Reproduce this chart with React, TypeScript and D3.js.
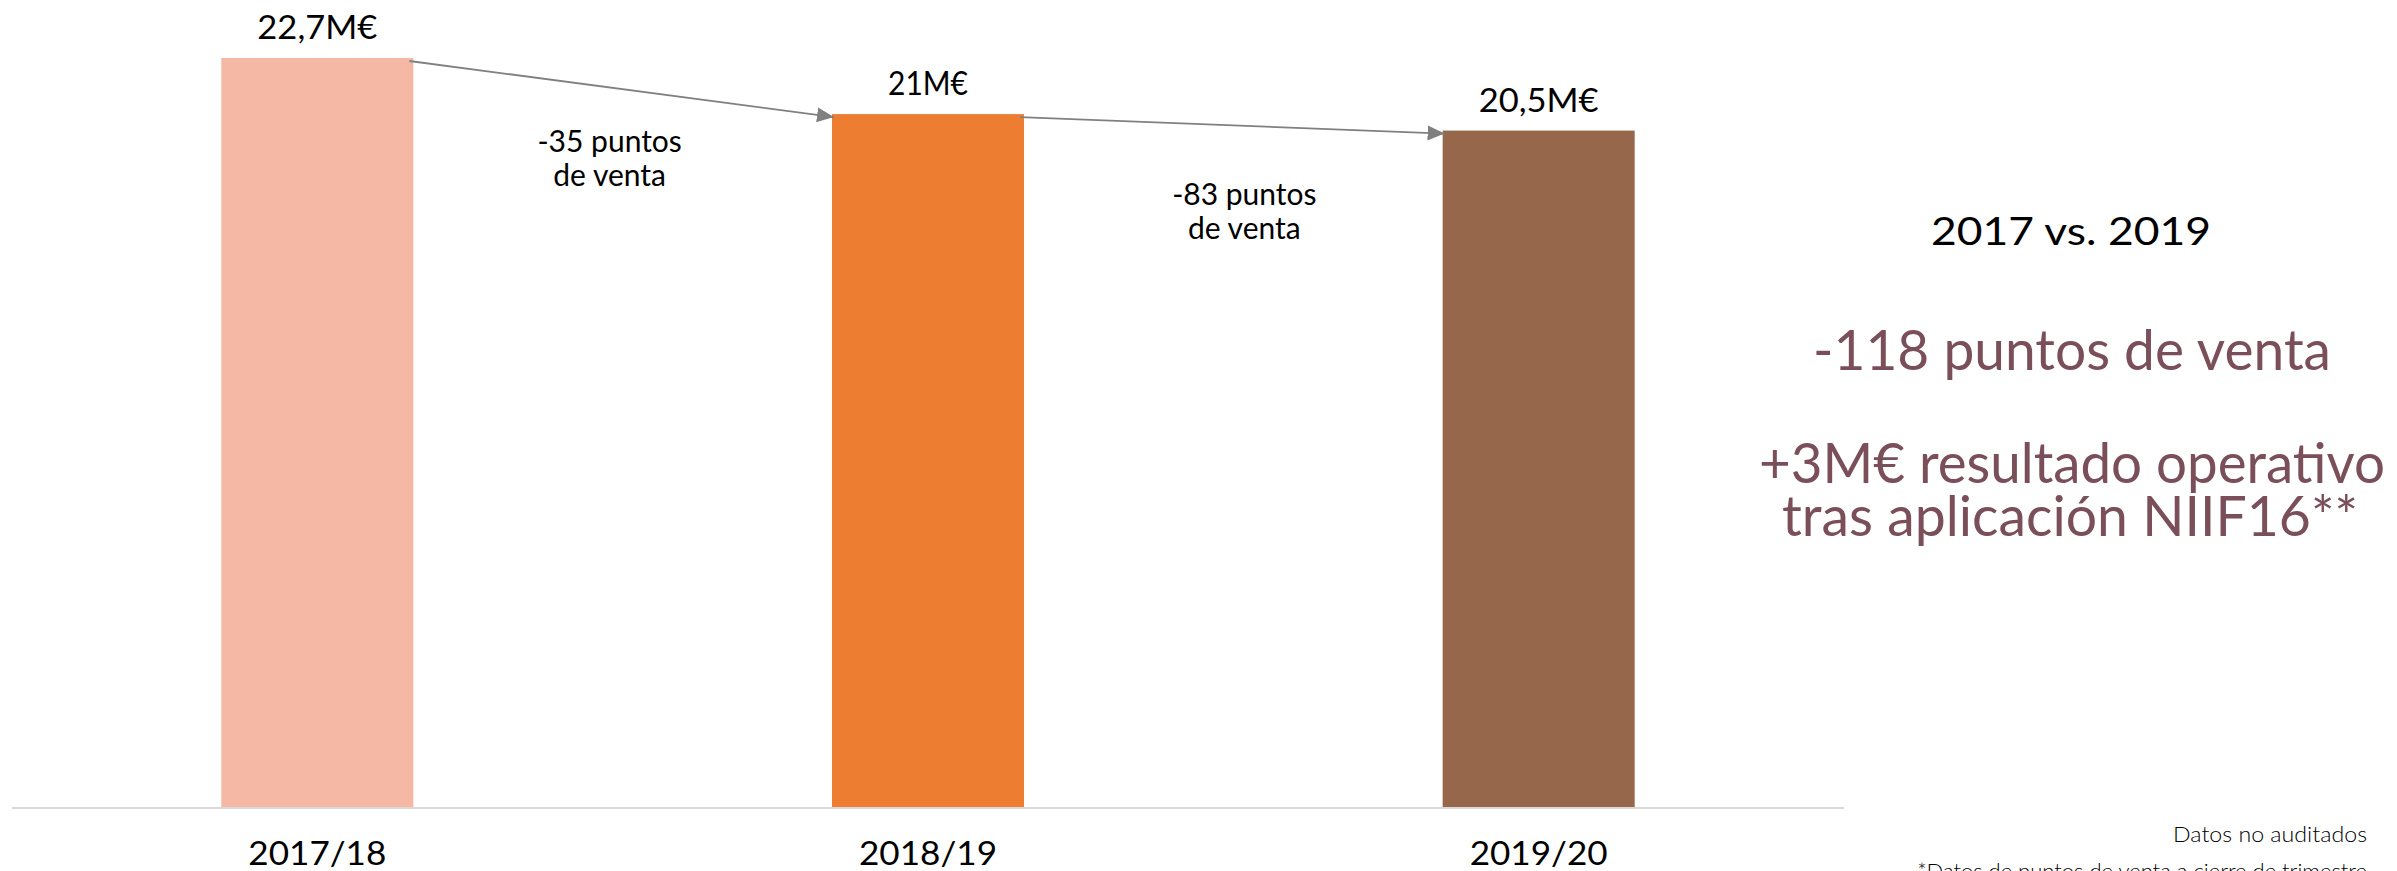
import React from "react";
import * as d3 from "d3";

const categories = ["2017/18", "2018/19", "2019/20"];
const values = [22.7, 21, 20.5];
const valueLabels = ["22,7M€", "21M€", "20,5M€"];
const changeLabels = [
  ["-35 puntos", "de venta"],
  ["-83 puntos", "de venta"],
];
const barColors = ["#F4B8A4", "#ED7D31", "#97674C"];
const summaryTitle = "2017 vs. 2019";
const summaryLines = ["-118 puntos de venta", "+3M€ resultado operativo", "tras aplicación NIIF16**"];
const footnotes = ["Datos no auditados", "*Datos de puntos de venta a cierre de trimestre"];

const W = 2397;
const H = 871;
const FONT = "Lato, 'Noto Sans', sans-serif";

export default function App() {
  const x = d3
    .scaleBand<string>()
    .domain(categories)
    .range([12, 1844])
    .paddingInner(0.6855)
    .paddingOuter(0.34275);
  const y = d3.scaleLinear().domain([0, 22.7]).range([807, 58]);
  const bw = x.bandwidth();
  const base = y(0);

  const arrows = categories.slice(0, -1).map((c, i) => {
    const n = categories[i + 1];
    const x1 = (x(c) as number) + bw - 4;
    const y1 = y(values[i]) + 3;
    const x2 = (x(n) as number) + 2;
    const y2 = y(values[i + 1]) + 3;
    return { x1, y1, x2, y2 };
  });

  return (
    <svg
      width={W}
      height={H}
      style={{ position: "absolute", left: 0, top: 0, background: "#fff" }}
      fontFamily={FONT}
    >
      <defs>
        <marker
          id="arrowHead"
          markerUnits="userSpaceOnUse"
          markerWidth={18}
          markerHeight={16}
          refX={17}
          refY={8}
          orient="auto"
        >
          <path d="M0,0.5 L17,8 L0,15.5 Z" fill="#808080" />
        </marker>
      </defs>

      {categories.map((c, i) => (
        <rect
          key={c}
          x={x(c)}
          y={y(values[i])}
          width={bw}
          height={base - y(values[i])}
          fill={barColors[i]}
        />
      ))}

      <line x1={12} x2={1844} y1={base + 1} y2={base + 1} stroke="#D9D9D9" strokeWidth={2} />

      {categories.map((c, i) => (
        <text
          key={"v" + c}
          x={(x(c) as number) + bw / 2}
          y={y(values[i]) - 19}
          textAnchor="middle"
          fontSize={33}
          fill="#000"
          textLength={valueLabels[i].length * 20}
          lengthAdjust="spacingAndGlyphs"
        >
          {valueLabels[i]}
        </text>
      ))}

      {categories.map((c) => (
        <text
          key={"c" + c}
          x={(x(c) as number) + bw / 2}
          y={865}
          textAnchor="middle"
          fontSize={32}
          fill="#000"
          textLength={138}
          lengthAdjust="spacingAndGlyphs"
        >
          {c}
        </text>
      ))}

      {arrows.map((a, i) => (
        <line
          key={"a" + i}
          x1={a.x1}
          y1={a.y1}
          x2={a.x2}
          y2={a.y2}
          stroke="#808080"
          strokeWidth={1.8}
          markerEnd="url(#arrowHead)"
        />
      ))}

      {changeLabels.map((lines, i) => {
        const a = arrows[i];
        const cx = (a.x1 + a.x2) / 2 + (i === 0 ? -12 : 12);
        const cy = (a.y1 + a.y2) / 2 + 63 + i * 17;
        return (
          <text key={"ch" + i} textAnchor="middle" fontSize={30} fill="#000">
            {lines.map((l, j) => (
              <tspan key={j} x={cx} y={cy + j * 34}>
                {l}
              </tspan>
            ))}
          </text>
        );
      })}

      <text x={2071} y={245} textAnchor="middle" fontSize={39} fill="#000" textLength={280} lengthAdjust="spacingAndGlyphs">
        {summaryTitle}
      </text>
      <text x={2072} y={370} textAnchor="middle" fontSize={56} fill="#7A4F59" textLength={518} lengthAdjust="spacingAndGlyphs">
        {summaryLines[0]}
      </text>
      <text x={2072} y={483} textAnchor="middle" fontSize={56} fill="#7A4F59" textLength={626} lengthAdjust="spacingAndGlyphs">
        {summaryLines[1]}
      </text>
      <text x={2070} y={536} textAnchor="middle" fontSize={56} fill="#7A4F59" textLength={576} lengthAdjust="spacingAndGlyphs">
        {summaryLines[2]}
      </text>

      <text x={2367} y={842} textAnchor="end" fontSize={22} fontWeight={300} fill="#000" textLength={194} lengthAdjust="spacingAndGlyphs">
        {footnotes[0]}
      </text>
      <text x={2367} y={879} textAnchor="end" fontSize={22} fontWeight={300} fill="#000">
        {footnotes[1]}
      </text>
    </svg>
  );
}
